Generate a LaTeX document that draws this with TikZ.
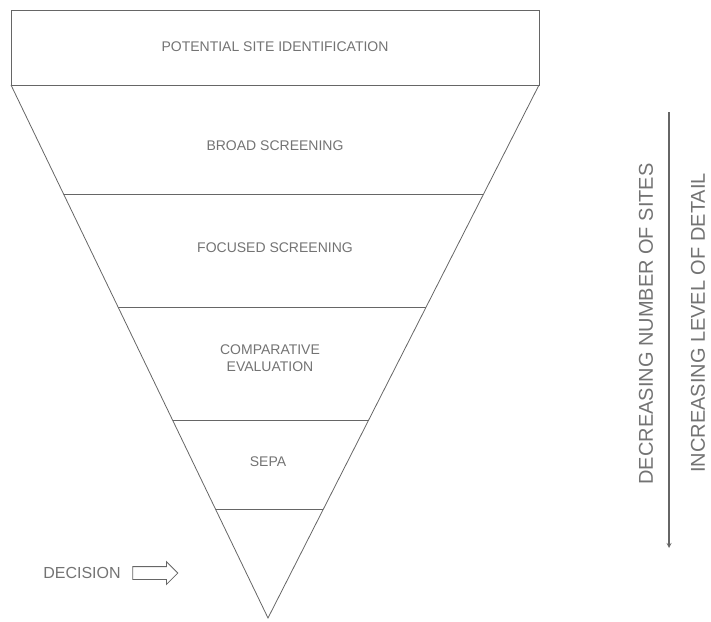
\documentclass[tikz,border=0pt]{standalone}
\usepackage{fontspec}
\setmainfont{Liberation Sans}
\usetikzlibrary{positioning, arrows, calc, shapes.arrows}
\definecolor{scanline}{gray}{0.40}
\definecolor{scantext}{gray}{0.45}
\tikzset{
  funnel/.style={
	x=1pt, y=-1pt, % one unit per pixel, y pointing down
	line width=0.8pt, % thin scanned strokes
	color=scanline,
	every node/.style={text=scantext}, % greyish print
  },
  stage/.style={font=\fontsize{14}{17}\selectfont, align=center}, % labels inside the funnel
  side/.style={font=\fontsize{20}{24}\selectfont, rotate=90}, % labels beside the long arrow
}

\begin{document}
\begin{tikzpicture}[funnel]
\useasboundingbox (0,0) rectangle (711,621);
\coordinate (boxtl) at (11,10);
\coordinate (tl) at (11,85);
\coordinate (tr) at (539,85);
\coordinate (apex) at (268,618);
\coordinate (b1l) at ($(tl)!0.206!(apex)$);
\coordinate (b1r) at ($(tr)!0.206!(apex)$);
\coordinate (b2l) at ($(tl)!0.4165!(apex)$);
\coordinate (b2r) at ($(tr)!0.4165!(apex)$);
\coordinate (b3l) at ($(tl)!0.6285!(apex)$);
\coordinate (b3r) at ($(tr)!0.6285!(apex)$);
\coordinate (b4l) at ($(tl)!0.797!(apex)$);
\coordinate (b4r) at ($(tr)!0.797!(apex)$);
\draw (boxtl) rectangle (tr);
\draw (tl) -- (apex) -- (tr);
\draw (b1l) -- (b1r);
\draw (b2l) -- (b2r);
\draw (b3l) -- (b3r);
\draw (b4l) -- (b4r);
\node[stage] (pot) at (275,47) {POTENTIAL SITE IDENTIFICATION};
\node[stage] (broad) at (275,146) {BROAD SCREENING};
\node[stage] (focus) at (275,248) {FOCUSED SCREENING};
\node[stage] (comp) at (270,358) {COMPARATIVE\\EVALUATION};
\node[stage] (sepa) at (268,462) {SEPA};
\node[stage, font=\fontsize{16}{19}\selectfont] (dec) at (82,573) {DECISION};
\node[single arrow, draw=scanline, inner xsep=0pt, inner ysep=6pt, single arrow head extend=5pt,
	minimum height=45pt, right=8pt of dec] (decarrow) {};
\coordinate (ctop) at (669,112);
\coordinate (cbot) at (669,548);
\draw[-stealth, line width=1.2pt] (ctop) -- (cbot);
\node[side] (fewer) at (646,324) {DECREASING NUMBER OF SITES};
\node[side] (detail) at (698,323) {INCREASING LEVEL OF DETAIL};
\end{tikzpicture}
\end{document}
